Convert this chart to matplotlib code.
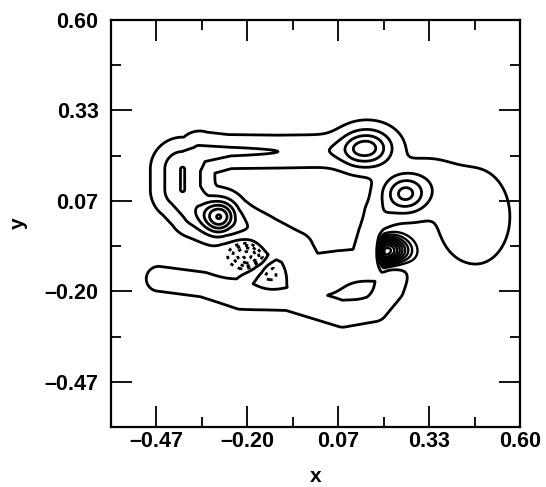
import numpy as np
import matplotlib
matplotlib.use("Agg")
import matplotlib.pyplot as plt

plt.rcParams["font.family"] = ["Liberation Sans", "DejaVu Sans"]
plt.rcParams["font.weight"] = "bold"

# ---- field, data coordinates ----
# ridges: spine vertices with crest height and width at each vertex
UPPER_X = [0.10, -0.11, -0.25, -0.34, -0.39, -0.39, -0.35, -0.29]
UPPER_Y = [0.215, 0.212, 0.212, 0.205, 0.16, 0.10, 0.04, 0.02]
UPPER_A = [0.75, 1.0, 1.12, 1.3, 2.02, 2.02, 1.7, 1.7]
UPPER_S = [0.029, 0.027, 0.027, 0.035, 0.044, 0.044, 0.040, 0.040]

MID_X = [-0.25, -0.14, -0.06, -0.03, 0.07, 0.15, 0.165, 0.19]
MID_Y = [0.0, -0.045, -0.08, -0.16, -0.14, -0.125, -0.03, 0.02]
MID_A = [0.8, 0.8, 0.8, 0.8, 0.8, 0.7, 0.7, 0.7]
MID_S = [0.04, 0.033, 0.033, 0.04, 0.036, 0.033, 0.025, 0.03]

LOWER_X = [-0.46, -0.33, -0.22, -0.08, 0.08, 0.17, 0.215, 0.24]
LOWER_Y = [-0.163, -0.18, -0.215, -0.22, -0.265, -0.245, -0.19, -0.13]
LOWER_A = [0.5, 0.5, 0.5, 0.5, 0.5, 0.5, 0.5, 0.5]
LOWER_S = [0.027, 0.027, 0.027, 0.027, 0.03, 0.033, 0.033, 0.03]

DRIDGE_X = [-0.215, -0.167, -0.12]
DRIDGE_Y = [-0.178, -0.135, -0.092]
DRIDGE_A = [0.5, 0.9, 0.5]
DRIDGE_S = [0.013, 0.013, 0.013]

# bumps: three peaks, right lobe, shoulder, rim of the dotted well, slit cap
BUMP_X = [-0.282, 0.152, 0.262, 0.47, 0.33, -0.2, 0.215]
BUMP_Y = [0.02, 0.222, 0.087, 0.02, 0.12, -0.087, -0.15]
BUMP_A = [3.4, 3.44, 3.13, 0.85, 0.5, 0.7, 0.35]
BUMP_SXL = [0.033, 0.046, 0.042, 0.066, 0.06, 0.035, 0.02]
BUMP_SXR = [0.033, 0.046, 0.042, 0.059, 0.06, 0.06, 0.02]
BUMP_SY = [0.030, 0.035, 0.036, 0.082, 0.05, 0.06, 0.02]

# wells: dotted minimum, hatched minimum, D-shaped hole, slit hole
WELL_X = [-0.20, 0.205, -0.135, 0.125]
WELL_Y = [-0.087, -0.082, -0.145, -0.195]
WELL_A = [-1.9, -3.0, -0.55, -0.3]
WELL_SXL = [0.035, 0.012, 0.035, 0.03]
WELL_SXR = [0.035, 0.045, 0.035, 0.03]
WELL_SY = [0.035, 0.03, 0.035, 0.02]

POS_LEVELS = [0.2, 1, 2, 3, 4, 5]
DOT_LEVELS = [-1.0, -0.75, -0.5, -0.25]
HATCH_LEVELS = [-2.7, -2.4, -2.1, -1.8, -1.5, -1.2, -0.9, -0.6, -0.3]

MAJOR = [-0.4667, -0.2, 0.0667, 0.3333, 0.6]
MINOR = [-0.3333, -0.0667, 0.2, 0.4667]
TICK_LABELS = ["\u20130.47", "\u20130.20", "0.07", "0.33", "0.60"]

g = np.linspace(-0.6, 0.6, 700)
X, Y = np.meshgrid(g, g)


def ridge(xs, ys, amps, sigs):
    out = np.zeros_like(X)
    for i in range(len(xs) - 1):
        dx, dy = xs[i + 1] - xs[i], ys[i + 1] - ys[i]
        t = np.clip(((X - xs[i]) * dx + (Y - ys[i]) * dy) / (dx * dx + dy * dy), 0, 1)
        d2 = (X - xs[i] - t * dx) ** 2 + (Y - ys[i] - t * dy) ** 2
        a = amps[i] + t * (amps[i + 1] - amps[i])
        s = sigs[i] + t * (sigs[i + 1] - sigs[i])
        out = np.maximum(out, a * np.exp(-d2 / (2 * s * s)))
    return out


def bump(x0, y0, a, sxl, sxr, sy):
    sx = np.where(X < x0, sxl, sxr)
    return a * np.exp(-((X - x0) ** 2 / (2 * sx * sx) + (Y - y0) ** 2 / (2 * sy * sy)))


F = np.maximum.reduce([
    ridge(UPPER_X, UPPER_Y, UPPER_A, UPPER_S),
    ridge(MID_X, MID_Y, MID_A, MID_S),
    ridge(LOWER_X, LOWER_Y, LOWER_A, LOWER_S),
    ridge(DRIDGE_X, DRIDGE_Y, DRIDGE_A, DRIDGE_S),
])
for p in zip(BUMP_X, BUMP_Y, BUMP_A, BUMP_SXL, BUMP_SXR, BUMP_SY):
    F += bump(*p)
for p in zip(WELL_X, WELL_Y, WELL_A, WELL_SXL, WELL_SXR, WELL_SY):
    F += bump(*p)

fig = plt.figure(figsize=(5.46, 4.87), dpi=100)
ax = fig.add_axes([0.2033, 0.1232, 0.749, 0.8357])

ax.contour(X, Y, F, levels=POS_LEVELS, colors="k", linewidths=2.0)
cs = ax.contour(X, Y, np.where(X < 0, F, np.nan), levels=DOT_LEVELS,
                colors="k", linewidths=2.0)
cs.set_linestyle((0, (1.2, 1.8)))
ax.contour(X, Y, np.where(X > 0, F, np.nan), levels=HATCH_LEVELS,
           colors="k", linewidths=1.7, linestyles="solid")

ax.set_xlim(-0.6, 0.6)
ax.set_ylim(-0.6, 0.6)
ax.set_xticks(MAJOR)
ax.set_xticklabels(TICK_LABELS)
ax.set_yticks(MAJOR)
ax.set_yticklabels(TICK_LABELS)
ax.set_xticks(MINOR, minor=True)
ax.set_yticks(MINOR, minor=True)
ax.tick_params(which="both", direction="in", top=True, right=True, width=1.3,
               labelsize=15.5)
ax.tick_params(which="major", length=15)
ax.tick_params(which="minor", length=7)
ax.tick_params(axis="x", pad=3)
ax.tick_params(axis="y", pad=9)
for sp in ax.spines.values():
    sp.set_linewidth(1.6)
ax.set_xlabel("x", fontsize=15, fontweight="bold", labelpad=11)
ax.set_ylabel("y", fontsize=15, fontweight="bold", labelpad=12)

fig.savefig("out.png", dpi=100)
